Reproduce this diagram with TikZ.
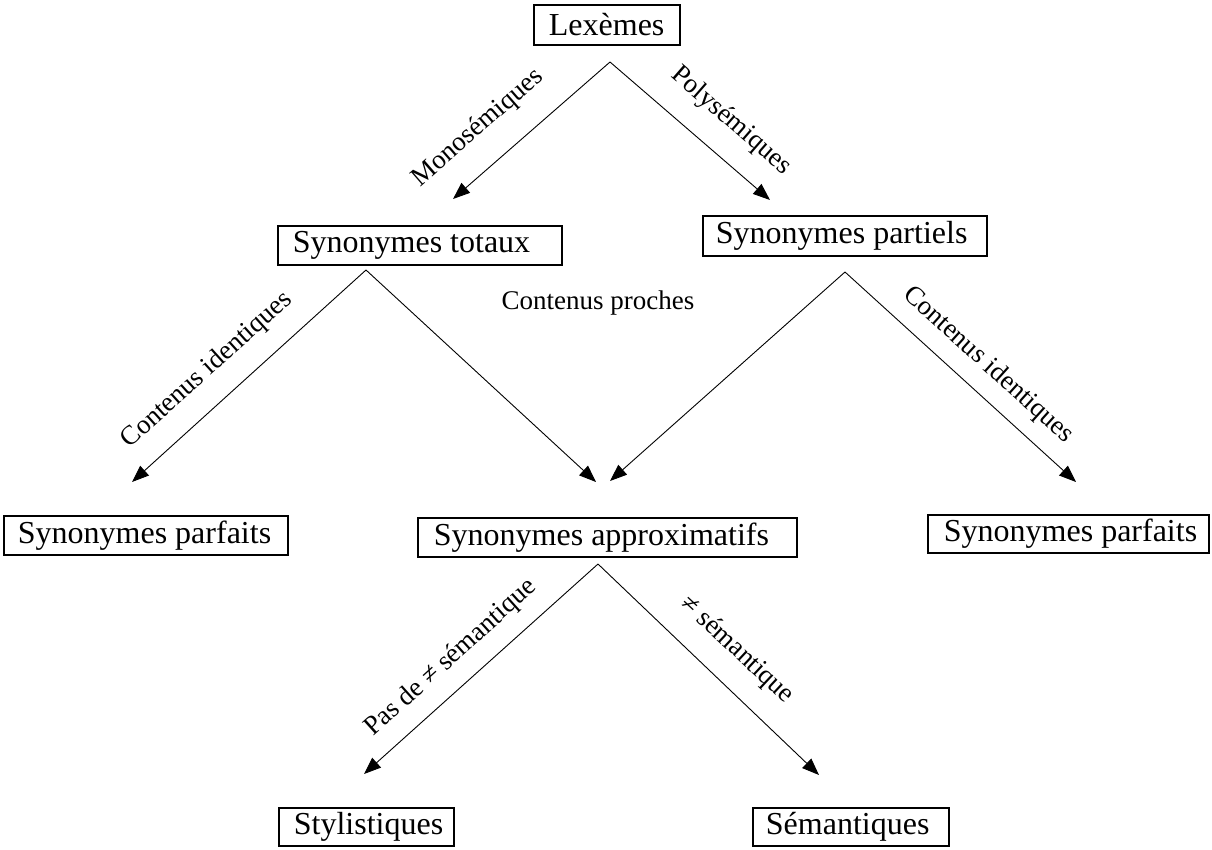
\documentclass[tikz,border=0pt]{standalone}
\usepackage{fontspec}
\setmainfont{Liberation Serif}
\usetikzlibrary{arrows.meta}
% left-aligned text inside a box of fixed inner width
\newcommand{\fixedtext}[2]{\makebox[#1][l]{#2}}
\begin{document}
\begin{tikzpicture}[x=1pt,y=-1pt,
  box/.style={draw, line width=1.8pt, anchor=north west, inner ysep=0pt,
    font=\fontsize{32}{36}\selectfont},
  lbl/.style={font=\fontsize{27}{30}\selectfont, inner sep=0pt},
  arr/.style={line width=0.9pt, -{Triangle[length=17pt,width=13pt]}}
]
\useasboundingbox (0,0) rectangle (1212,849);

% boxes
\node[box, inner xsep=15pt, minimum height=40pt] (lex) at (533,4)  {\fixedtext{116pt}{Lexèmes}};
\node[box, inner xsep=15pt, minimum height=39pt] (tot) at (277,225) {\fixedtext{254pt}{Synonymes totaux}};
\node[box, inner xsep=13pt, minimum height=40pt] (par) at (702,215) {\fixedtext{258pt}{Synonymes partiels}};
\node[box, inner xsep=14pt, minimum height=39pt] (pfL) at (3,515)   {\fixedtext{256pt}{Synonymes parfaits}};
\node[box, inner xsep=16pt, minimum height=39pt] (app) at (417,517) {\fixedtext{347pt}{Synonymes approximatifs}};
\node[box, inner xsep=16pt, minimum height=38pt] (pfR) at (927,514) {\fixedtext{249pt}{Synonymes parfaits}};
\node[box, inner xsep=15pt, minimum height=38pt] (sty) at (278,807) {\fixedtext{145pt}{Stylistiques}};
\node[box, inner xsep=13pt, minimum height=38pt] (sem) at (752,807) {\fixedtext{170pt}{Sémantiques}};

% starting points of the branches and arrow tips
\coordinate (lexA) at (610,62);
\coordinate (totT) at (453,199);
\coordinate (parT) at (770,200);
\coordinate (totA) at (366,270);
\coordinate (pfLT) at (132,482);
\coordinate (appT1) at (596,482);
\coordinate (parA) at (845,272);
\coordinate (appT2) at (610,481);
\coordinate (pfRT) at (1076,482);
\coordinate (appA) at (598,564);
\coordinate (styT) at (364,774);
\coordinate (semT) at (819,775);

% connectors
\draw[arr] (lexA) -- (totT);
\draw[arr] (lexA) -- (parT);
\draw[arr] (totA) -- (pfLT);
\draw[arr] (totA) -- (appT1);
\draw[arr] (parA) -- (appT2);
\draw[arr] (parA) -- (pfRT);
\draw[arr] (appA) -- (styT);
\draw[arr] (appA) -- (semT);

% branch labels
\node[lbl, rotate=41]  (lMono) at (478,128) {Monosémiques};
\node[lbl, rotate=-41] (lPoly) at (731,121) {Polysémiques};
\node[lbl, rotate=42]  (lIdL)  at (207,370) {Contenus identiques};
\node[lbl]             (lProc) at (598,303) {Contenus proches};
\node[lbl, rotate=-42] (lIdR)  at (988,365) {Contenus identiques};
\node[lbl, rotate=42]  (lPas)  at (451,658) {Pas de ≠ sémantique};
\node[lbl, rotate=-43] (lSem)  at (737,650) {≠ sémantique};
\end{tikzpicture}
\end{document}
